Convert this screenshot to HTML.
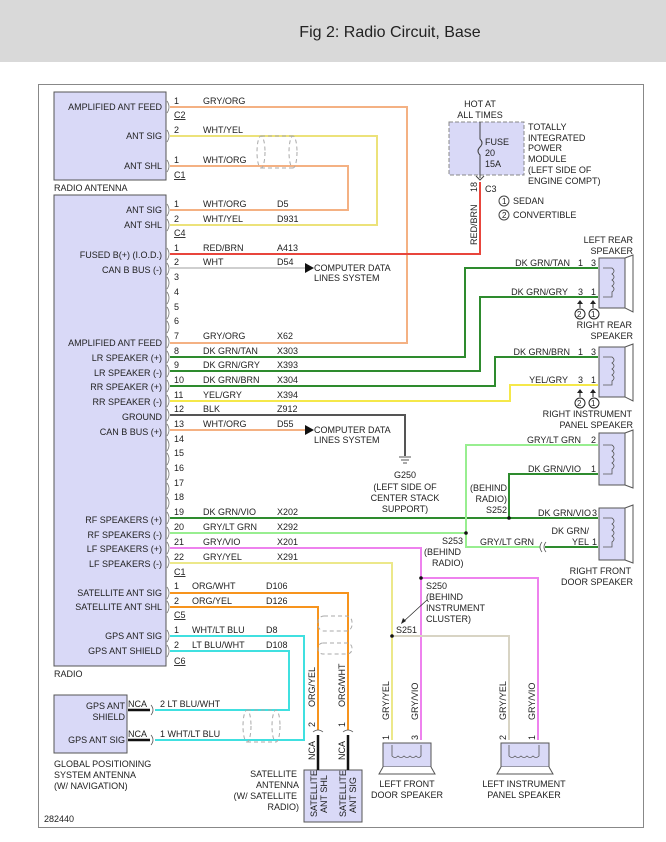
<!DOCTYPE html>
<html><head><meta charset="utf-8"><style>
body{margin:0;background:#fff}
svg{display:block}
text{font-family:"Liberation Sans",Arial,sans-serif;font-size:9px;fill:#222}
</style></head><body>
<svg width="666" height="842" viewBox="0 0 666 842" xmlns="http://www.w3.org/2000/svg">
<rect x="0" y="0" width="666" height="62" fill="#d9d9d9"/>
<text x="390" y="37" style="font-size:16px" text-anchor="middle" fill="#333">Fig 2: Radio Circuit, Base</text>
<rect x="38.5" y="84.5" width="605" height="743" fill="#fff" stroke="#888"/>

<g fill="#d9d9f7" stroke="#555">
<rect x="54" y="92" width="112" height="88"/>
<rect x="54" y="195" width="112" height="471"/>
<rect x="54" y="695" width="73" height="58"/>
<rect x="304" y="770" width="58" height="52"/>
</g>
<g text-anchor="end">
<text x="162" y="110">AMPLIFIED ANT FEED</text>
<text x="162" y="139">ANT SIG</text>
<text x="162" y="169">ANT SHL</text>
<text x="162" y="213">ANT SIG</text>
<text x="162" y="228">ANT SHL</text>
<text x="162" y="258">FUSED B(+) (I.O.D.)</text>
<text x="162" y="273">CAN B BUS (-)</text>
<text x="162" y="346">AMPLIFIED ANT FEED</text>
<text x="162" y="361">LR SPEAKER (+)</text>
<text x="162" y="376">LR SPEAKER (-)</text>
<text x="162" y="390">RR SPEAKER (+)</text>
<text x="162" y="405">RR SPEAKER (-)</text>
<text x="162" y="420">GROUND</text>
<text x="162" y="435">CAN B BUS (+)</text>
<text x="162" y="523">RF SPEAKERS (+)</text>
<text x="162" y="538">RF SPEAKERS (-)</text>
<text x="162" y="552">LF SPEAKERS (+)</text>
<text x="162" y="567">LF SPEAKERS (-)</text>
<text x="162" y="596">SATELLITE ANT SIG</text>
<text x="162" y="610">SATELLITE ANT SHL</text>
<text x="162" y="639">GPS ANT SIG</text>
<text x="162" y="654">GPS ANT SHIELD</text>
<text x="125" y="709">GPS ANT</text>
<text x="125" y="720">SHIELD</text>
<text x="125" y="743">GPS ANT SIG</text>
</g>
<text x="54" y="191">RADIO ANTENNA</text>
<text x="54" y="677">RADIO</text>
<text x="54" y="767">GLOBAL POSITIONING</text>
<text x="54" y="778">SYSTEM ANTENNA</text>
<text x="54" y="789">(W/ NAVIGATION)</text>
<text x="44" y="822">282440</text>

<g fill="none" stroke="#777" stroke-width="0.8">
<path d="M167 101 q4 6 0 12 M167 130 q4 6 0 12 M167 160 q4 6 0 12 M167 204 q4 6 0 12 M167 219 q4 6 0 12"/>
<path d="M167 248 q4 6 0 12 M167 263 q4 6 0 12 M167 277 q4 6 0 12 M167 292 q4 6 0 12 M167 307 q4 6 0 12 M167 321 q4 6 0 12 M167 336 q4 6 0 12 M167 351 q4 6 0 12 M167 365 q4 6 0 12 M167 380 q4 6 0 12 M167 395 q4 6 0 12 M167 409 q4 6 0 12 M167 424 q4 6 0 12 M167 439 q4 6 0 12 M167 453 q4 6 0 12 M167 468 q4 6 0 12 M167 483 q4 6 0 12 M167 497 q4 6 0 12 M167 512 q4 6 0 12 M167 527 q4 6 0 12 M167 542 q4 6 0 12 M167 556 q4 6 0 12"/>
<path d="M167 587 q4 6 0 12 M167 601 q4 6 0 12 M167 630 q4 6 0 12 M167 645 q4 6 0 12"/>
</g>

<g fill="none" stroke-width="2">
<path d="M170 107 H407 V343 H170" stroke="#f4b183"/>
<path d="M170 136 H377 V225 H170" stroke="#ece27a"/>
<path d="M170 166 H348 V210 H170" stroke="#f4b183"/>
<path d="M170 254 H480 V182" stroke="#e8453c"/>
<path d="M170 268 H305" stroke="#cfcfcf"/>
<path d="M170 357 H465 V268 H598" stroke="#2e8b2e"/>
<path d="M170 371 H480 V297 H598" stroke="#2e8b2e"/>
<path d="M170 386 H495 V357 H598" stroke="#2e8b2e"/>
<path d="M170 401 H510 V385 H598" stroke="#f5e84a"/>
<path d="M170 415 H405 V456" stroke="#555"/>
<path d="M170 430 H305" stroke="#f4b183"/>
<path d="M170 518 H598" stroke="#2e8b2e"/>
<path d="M509 518 V474 H598" stroke="#2e8b2e"/>
<path d="M170 533 H466 V445 H598 M466 533 V547 H540" stroke="#98ee90"/>
<path d="M545 547 H598" stroke="#2e8b2e"/>
<path d="M170 548 H421 V740 M421 578 H538 V740" stroke="#ee82ee"/>
<path d="M170 563 H392 V740" stroke="#ece88a"/>
<path d="M392 636 H509 V740" stroke="#d8d4c4"/>
<path d="M170 593 H348 V730" stroke="#f7941d"/>
<path d="M170 607 H318 V730" stroke="#f7941d"/>
<path d="M170 636 H304 V740 H155" stroke="#40e0e0"/>
<path d="M170 651 H289 V710 H155" stroke="#40e0e0"/>
</g>
<g stroke="#111" stroke-width="2.5">
<path d="M128 710 H150 M128 740 H150 M318 735 V770 M348 735 V770"/>
</g>
<g fill="none" stroke="#555" stroke-width="0.8">
<path d="M151 705 q4 5 0 10 M151 735 q4 5 0 10 M313 732 q5 -4 10 0 M343 732 q5 -4 10 0 M542 542 q-4 5 0 10 M546 542 q-4 5 0 10"/>
</g>
<g fill="none" stroke="#aaa" stroke-dasharray="4 3">
<ellipse cx="261" cy="152" rx="4" ry="16"/><ellipse cx="293" cy="152" rx="4" ry="16"/>
<path d="M261 136 H293 M261 168 H293"/>
<rect x="318" y="616" width="34" height="15" rx="6"/><rect x="318" y="643" width="34" height="11" rx="5"/>
<ellipse cx="247" cy="726" rx="4" ry="16"/><ellipse cx="276" cy="726" rx="4" ry="16"/>
<path d="M247 710 H276 M247 742 H276"/>
</g>

<path d="M305 263 L314 268 L305 273 Z M305 425 L314 430 L305 435 Z" fill="#111"/>
<g fill="#111">
<text x="314" y="271">COMPUTER DATA</text><text x="314" y="281">LINES SYSTEM</text>
<text x="314" y="433">COMPUTER DATA</text><text x="314" y="443">LINES SYSTEM</text>
</g>
<path d="M399 457 H411 M401 460 H409 M403 463 H407" stroke="#555"/>
<g text-anchor="middle">
<text x="405" y="478">G250</text><text x="405" y="490">(LEFT SIDE OF</text><text x="405" y="501">CENTER STACK</text><text x="405" y="512">SUPPORT)</text>
</g>

<g>
<text x="174" y="104">1</text><text x="203" y="104">GRY/ORG</text>
<text x="174" y="118" text-decoration="underline">C2</text>
<text x="174" y="133">2</text><text x="203" y="133">WHT/YEL</text>
<text x="174" y="163">1</text><text x="203" y="163">WHT/ORG</text>
<text x="174" y="178" text-decoration="underline">C1</text>
<text x="174" y="207">1</text><text x="203" y="207">WHT/ORG</text><text x="277" y="207">D5</text>
<text x="174" y="222">2</text><text x="203" y="222">WHT/YEL</text><text x="277" y="222">D931</text>
<text x="174" y="236" text-decoration="underline">C4</text>
<text x="174" y="251">1</text><text x="203" y="251">RED/BRN</text><text x="277" y="251">A413</text>
<text x="174" y="265">2</text><text x="203" y="265">WHT</text><text x="277" y="265">D54</text>
<text x="174" y="280">3</text><text x="174" y="295">4</text><text x="174" y="310">5</text><text x="174" y="324">6</text>
<text x="174" y="339">7</text><text x="203" y="339">GRY/ORG</text><text x="277" y="339">X62</text>
<text x="174" y="354">8</text><text x="203" y="354">DK GRN/TAN</text><text x="277" y="354">X303</text>
<text x="174" y="368">9</text><text x="203" y="368">DK GRN/GRY</text><text x="277" y="368">X393</text>
<text x="174" y="383">10</text><text x="203" y="383">DK GRN/BRN</text><text x="277" y="383">X304</text>
<text x="174" y="398">11</text><text x="203" y="398">YEL/GRY</text><text x="277" y="398">X394</text>
<text x="174" y="412">12</text><text x="203" y="412">BLK</text><text x="277" y="412">Z912</text>
<text x="174" y="427">13</text><text x="203" y="427">WHT/ORG</text><text x="277" y="427">D55</text>
<text x="174" y="442">14</text><text x="174" y="456">15</text><text x="174" y="471">16</text><text x="174" y="486">17</text><text x="174" y="500">18</text>
<text x="174" y="515">19</text><text x="203" y="515">DK GRN/VIO</text><text x="277" y="515">X202</text>
<text x="174" y="530">20</text><text x="203" y="530">GRY/LT GRN</text><text x="277" y="530">X292</text>
<text x="174" y="545">21</text><text x="203" y="545">GRY/VIO</text><text x="277" y="545">X201</text>
<text x="174" y="560">22</text><text x="203" y="560">GRY/YEL</text><text x="277" y="560">X291</text>
<text x="174" y="575" text-decoration="underline">C1</text>
<text x="174" y="589">1</text><text x="192" y="589">ORG/WHT</text><text x="266" y="589">D106</text>
<text x="174" y="604">2</text><text x="192" y="604">ORG/YEL</text><text x="266" y="604">D126</text>
<text x="174" y="618" text-decoration="underline">C5</text>
<text x="174" y="633">1</text><text x="192" y="633">WHT/LT BLU</text><text x="266" y="633">D8</text>
<text x="174" y="648">2</text><text x="192" y="648">LT BLU/WHT</text><text x="266" y="648">D108</text>
<text x="174" y="664" text-decoration="underline">C6</text>
<text x="128" y="707">NCA</text><text x="160" y="707">2  LT BLU/WHT</text>
<text x="128" y="737">NCA</text><text x="160" y="737">1 WHT/LT BLU</text>
</g>

<text x="480" y="107" text-anchor="middle">HOT AT</text><text x="480" y="118" text-anchor="middle">ALL TIMES</text>
<rect x="449" y="122" width="75" height="53" fill="#d9d9f7" stroke="#888" stroke-dasharray="4 2"/>
<path d="M480 122 V139 q4 4 0 8 q-4 4 0 8 V178" stroke="#444" fill="none"/>
<path d="M476 176 L480 180 L484 176" stroke="#444" fill="none"/>
<text x="485" y="145">FUSE</text><text x="485" y="156">20</text><text x="485" y="167">15A</text>
<g><text x="528" y="130">TOTALLY</text><text x="528" y="141">INTEGRATED</text><text x="528" y="151">POWER</text><text x="528" y="162">MODULE</text><text x="528" y="173">(LEFT SIDE OF</text><text x="528" y="184">ENGINE COMPT)</text></g>
<text transform="translate(477,192) rotate(-90)">18</text>
<text transform="translate(477,245) rotate(-90)">RED/BRN</text>
<text x="485" y="192">C3</text>
<g fill="none" stroke="#444"><circle cx="504" cy="201" r="5"/><circle cx="504" cy="215" r="5"/></g>
<text x="502" y="204" style="font-size:8px">1</text><text x="502" y="218" style="font-size:8px">2</text>
<text x="513" y="204">SEDAN</text><text x="513" y="218">CONVERTIBLE</text>

<g fill="#d9d9f7" stroke="#555">
<rect x="599" y="258" width="26" height="50"/><rect x="599" y="347" width="26" height="50"/>
<rect x="599" y="433" width="26" height="52"/><rect x="599" y="508" width="26" height="52"/>
</g>
<g fill="#fff" stroke="#555">
<path d="M625 258 L633 255 V312 L625 308 Z M625 347 L633 344 V401 L625 397 Z M625 433 L633 430 V488 L625 485 Z M625 508 L633 505 V563 L625 560 Z"/>
</g>
<g fill="none" stroke="#555" stroke-width="0.8">
<path d="M603 268 H612 q4 3 0 6 q4 3 0 6 q4 3 0 6 q4 3 0 6 V297 H603"/>
<path d="M603 357 H612 q4 3 0 6 q4 3 0 6 q4 3 0 6 q4 3 0 6 V385 H603"/>
<path d="M603 445 H612 q4 3 0 6 q4 3 0 6 q4 3 0 6 q4 3 0 6 V474 H603"/>
<path d="M603 518 H612 q4 3 0 6 q4 3 0 6 q4 3 0 6 q4 3 0 6 V547 H603"/>
</g>
<g text-anchor="end">
<text x="633" y="243">LEFT REAR</text><text x="633" y="254">SPEAKER</text>
<text x="632" y="328">RIGHT REAR</text><text x="633" y="339">SPEAKER</text>
<text x="632" y="417">RIGHT INSTRUMENT</text><text x="633" y="428">PANEL SPEAKER</text>
<text x="631" y="574">RIGHT FRONT</text><text x="633" y="585">DOOR SPEAKER</text>
<text x="570" y="266">DK GRN/TAN</text><text x="568" y="295">DK GRN/GRY</text>
<text x="570" y="355">DK GRN/BRN</text><text x="568" y="383">YEL/GRY</text>
<text x="581" y="443">GRY/LT GRN</text><text x="581" y="472">DK GRN/VIO</text>
<text x="591" y="516">DK GRN/VIO</text><text x="589" y="534">DK GRN/</text><text x="589" y="545">YEL</text>
<text x="534" y="545">GRY/LT GRN</text>
</g>
<text x="578" y="266">1</text><text x="591" y="266">3</text>
<text x="578" y="295">3</text><text x="591" y="295">1</text>
<text x="578" y="355">1</text><text x="591" y="355">3</text>
<text x="578" y="383">3</text><text x="591" y="383">1</text>
<text x="591" y="443">2</text><text x="591" y="472">1</text><text x="592" y="516">3</text><text x="592" y="545">1</text>
<g stroke="#222" fill="none"><path d="M580 304 V308 M593 304 V308 M580 393 V397 M593 393 V397"/>
<circle cx="580" cy="314" r="5"/><circle cx="594" cy="314" r="5"/><circle cx="580" cy="403" r="5"/><circle cx="594" cy="403" r="5"/></g>
<path d="M577 304 L580 300 L583 304 Z M590 304 L593 300 L596 304 Z M577 393 L580 389 L583 393 Z M590 393 L593 389 L596 393 Z" fill="#222"/>
<text x="577" y="317" style="font-size:8px">2</text><text x="591" y="317" style="font-size:8px">1</text><text x="577" y="406" style="font-size:8px">2</text><text x="591" y="406" style="font-size:8px">1</text>

<g fill="#111"><circle cx="509" cy="518" r="1.8"/><circle cx="466" cy="533" r="1.8"/><circle cx="421" cy="578" r="1.8"/><circle cx="392" cy="636" r="1.8"/></g>
<g text-anchor="end"><text x="507" y="491">(BEHIND</text><text x="507" y="502">RADIO)</text><text x="507" y="513">S252</text></g>
<text x="442" y="544">S253</text><text x="424" y="555">(BEHIND</text><text x="432" y="566">RADIO)</text>
<text x="426" y="589">S250</text><text x="426" y="600">(BEHIND</text><text x="426" y="611">INSTRUMENT</text><text x="426" y="622">CLUSTER)</text>
<text x="396" y="633">S251</text>
<path d="M427 600 L403 622" stroke="#222" stroke-width="0.7"/><path d="M401 624 L403 618 L406 621 Z" fill="#222"/>

<g fill="#d9d9f7" stroke="#555"><rect x="383" y="743" width="48" height="24"/><rect x="501" y="743" width="48" height="24"/></g>
<path d="M383 767 L379 774 H435 L431 767 M501 767 L497 774 H553 L549 767" fill="#fff" stroke="#555"/>
<g fill="none" stroke="#555" stroke-width="0.8">
<path d="M392 745 V756 q3 3 6 0 q3 3 6 0 q3 3 6 0 q3 3 6 0 q3 3 5 0 V745"/>
<path d="M509 745 V756 q3 3 6 0 q3 3 6 0 q3 3 6 0 q3 3 6 0 q3 3 6 0 V745"/>
</g>
<g text-anchor="middle"><text x="407" y="787">LEFT FRONT</text><text x="407" y="798">DOOR SPEAKER</text><text x="524" y="787">LEFT INSTRUMENT</text><text x="524" y="798">PANEL SPEAKER</text></g>
<text transform="translate(389,720) rotate(-90)">GRY/YEL</text>
<text transform="translate(418,720) rotate(-90)">GRY/VIO</text>
<text transform="translate(506,720) rotate(-90)">GRY/YEL</text>
<text transform="translate(535,720) rotate(-90)">GRY/VIO</text>
<text transform="translate(389,740) rotate(-90)">1</text><text transform="translate(418,740) rotate(-90)">3</text>
<text transform="translate(506,740) rotate(-90)">2</text><text transform="translate(535,740) rotate(-90)">1</text>

<text transform="translate(315,707) rotate(-90)">ORG/YEL</text>
<text transform="translate(345,707) rotate(-90)">ORG/WHT</text>
<text transform="translate(315,727) rotate(-90)">2</text><text transform="translate(345,727) rotate(-90)">1</text>
<text transform="translate(315,760) rotate(-90)">NCA</text><text transform="translate(345,760) rotate(-90)">NCA</text>
<text transform="translate(317,817) rotate(-90)">SATELLITE</text><text transform="translate(327,813) rotate(-90)">ANT SHL</text>
<text transform="translate(346,817) rotate(-90)">SATELLITE</text><text transform="translate(356,813) rotate(-90)">ANT SIG</text>
<g text-anchor="end"><text x="297" y="777">SATELLITE</text><text x="299" y="788">ANTENNA</text><text x="297" y="799">(W/ SATELLITE</text><text x="299" y="810">RADIO)</text></g>
</svg>
</body></html>
